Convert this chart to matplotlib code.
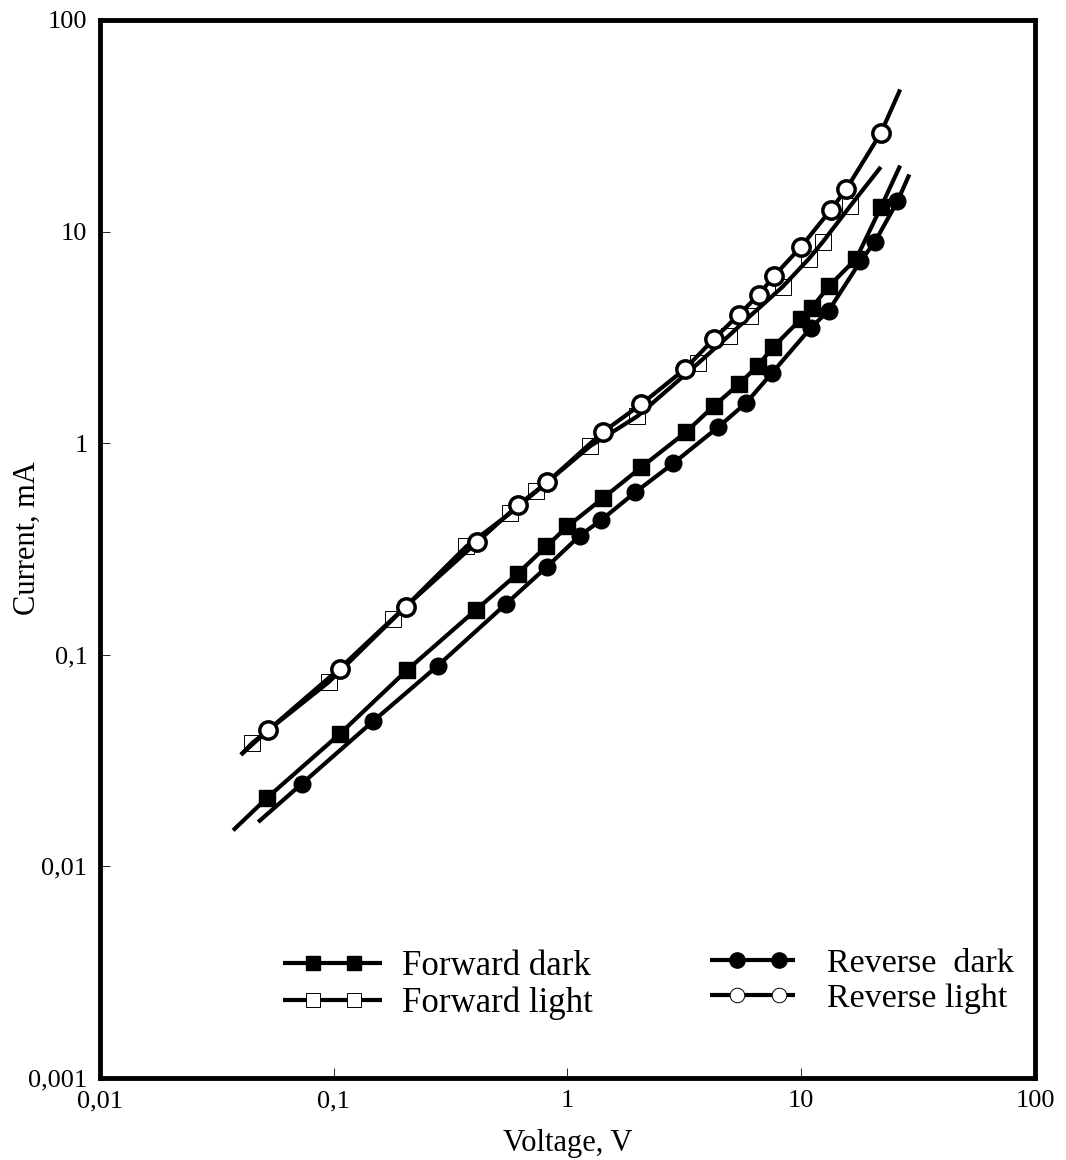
import numpy as np
import matplotlib
matplotlib.use("Agg")
import matplotlib.pyplot as plt
from matplotlib.lines import Line2D
from matplotlib.ticker import FixedLocator, FixedFormatter, NullLocator
from matplotlib.legend_handler import HandlerBase

plt.rcParams['font.family'] = ['Liberation Serif', 'DejaVu Serif']

# Forward dark (filled squares)
fd_v = [0.0519, 0.106, 0.205, 0.406, 0.613, 0.810, 1.0, 1.416, 2.07, 3.21, 4.23,
        5.41, 6.51, 7.59, 10.0, 11.1, 13.2, 17.2, 21.9]
fd_i = [0.0211, 0.0422, 0.0843, 0.163, 0.242, 0.325, 0.404, 0.549, 0.770, 1.127, 1.50,
        1.90, 2.32, 2.85, 3.87, 4.37, 5.55, 7.45, 13.0]
fd_ends_v = [0.0371, 26.5]
fd_ends_i = [0.0148, 20.5]

# Reverse dark (filled circles)
rd_v = [0.0728, 0.147, 0.279, 0.546, 0.818, 1.13, 1.39, 1.95, 2.84, 4.41, 5.81,
        7.51, 11.0, 13.1, 17.9, 20.7, 25.8]
rd_i = [0.0245, 0.0484, 0.0889, 0.174, 0.261, 0.366, 0.432, 0.586, 0.804, 1.19, 1.55,
        2.15, 3.51, 4.23, 7.22, 8.97, 13.9]
rd_ends_v = [0.0475, 29.0]
rd_ends_i = [0.0162, 18.6]

# Forward light (open squares)
fl_v = [0.0448, 0.0951, 0.180, 0.369, 0.568, 0.736, 1.25, 1.99, 3.63, 4.89, 6.06,
        8.32, 10.8, 12.4, 16.2]
fl_i = [0.0383, 0.0742, 0.148, 0.325, 0.466, 0.592, 0.968, 1.34, 2.39, 3.21, 4.00,
        5.48, 7.45, 8.97, 13.2]
fl_ends_v = [0.0401, 21.9]
fl_ends_i = [0.0337, 20.2]

# Reverse light (open circles)
rl_v = [0.0525, 0.106, 0.203, 0.410, 0.613, 0.818, 1.42, 2.07, 3.18, 4.23, 5.41,
        6.57, 7.66, 10.0, 13.4, 15.6, 21.9]
rl_i = [0.0441, 0.0861, 0.169, 0.340, 0.508, 0.653, 1.13, 1.53, 2.24, 3.11, 4.05,
        5.02, 6.18, 8.49, 12.7, 15.9, 29.2]
rl_ends_v = [0.0401, 26.5]
rl_ends_i = [0.0337, 46.9]

x_ticks = [0.01, 0.1, 1, 10, 100]
x_labels = ["0,01", "0,1", "1", "10", "100"]
y_ticks = [0.001, 0.01, 0.1, 1, 10, 100]
y_labels = ["0,001", "0,01", "0,1", "1", "10", "100"]


def path(v, i, ends_v, ends_i):
    return [ends_v[0]] + v + [ends_v[1]], [ends_i[0]] + i + [ends_i[1]]


class TwoMarkerHandler(HandlerBase):
    """legend handle: full-width line with two markers placed at fractions of it"""
    def __init__(self, fracs):
        super().__init__()
        self.fracs = fracs

    def create_artists(self, legend, orig_handle, xdescent, ydescent, width, height,
                       fontsize, trans):
        y = (height - ydescent) / 2
        line = Line2D([-xdescent, -xdescent + width], [y, y], color='black',
                      lw=orig_handle.get_linewidth(), solid_capstyle='butt', transform=trans)
        xs = [-xdescent + f * width for f in self.fracs]
        marks = Line2D(xs, [y] * len(xs), ls='none', marker=orig_handle.get_marker(),
                       ms=orig_handle.get_markersize(),
                       mfc=orig_handle.get_markerfacecolor(),
                       mec=orig_handle.get_markeredgecolor(),
                       mew=orig_handle.get_markeredgewidth(), transform=trans)
        return [line, marks]


fig = plt.figure(figsize=(10.66, 11.6), dpi=100)
ax = fig.add_axes([0.0938, 0.0707, 0.8771, 0.9121])
ax.set_xscale('log')
ax.set_yscale('log')
ax.set_xlim(0.01, 100)
ax.set_ylim(0.001, 100)

lw = 3.0
# lines first, markers on top
for v, i, ev, ei in [(fl_v, fl_i, fl_ends_v, fl_ends_i),
                     (rl_v, rl_i, rl_ends_v, rl_ends_i),
                     (fd_v, fd_i, fd_ends_v, fd_ends_i),
                     (rd_v, rd_i, rd_ends_v, rd_ends_i)]:
    pv, pi = path(v, i, ev, ei)
    ax.plot(pv, pi, color='black', lw=lw, solid_capstyle='butt', zorder=2)

ax.plot(fl_v, fl_i, ls='none', marker='s', ms=11.5, mfc='none', mec='black', mew=0.7, zorder=1)
ax.plot(fd_v, fd_i, ls='none', marker='s', ms=11.5, mfc='black', mec='black', zorder=3)
ax.plot(rd_v, rd_i, ls='none', marker='o', ms=12, mfc='black', mec='black', zorder=3)
ax.plot(rl_v, rl_i, ls='none', marker='o', ms=12.5, mfc='white', mec='black', mew=2.5, zorder=4)

ax.xaxis.set_major_locator(FixedLocator(x_ticks))
ax.xaxis.set_major_formatter(FixedFormatter(x_labels))
ax.yaxis.set_major_locator(FixedLocator(y_ticks))
ax.yaxis.set_major_formatter(FixedFormatter(y_labels))
ax.xaxis.set_minor_locator(NullLocator())
ax.yaxis.set_minor_locator(NullLocator())
ax.tick_params(direction='in', length=7, width=0.6, labelsize=19, pad=9)

for s in ax.spines.values():
    s.set_linewidth(3.5)

ax.set_xlabel("Voltage, V", fontsize=22, labelpad=12)
ax.set_ylabel("Current, mA", fontsize=22)
ax.yaxis.set_label_coords(-0.062, 0.51)

# legend proxies
h_fd = Line2D([], [], color='black', lw=lw, marker='s', ms=10.5, mfc='black', mec='black')
h_fl = Line2D([], [], color='black', lw=lw, marker='s', ms=10.5, mfc='white', mec='black', mew=0.7)
h_rd = Line2D([], [], color='black', lw=lw, marker='o', ms=11, mfc='black', mec='black')
h_rl = Line2D([], [], color='black', lw=lw, marker='o', ms=10.5, mfc='white', mec='black', mew=0.7)

fwd = TwoMarkerHandler([0.30, 0.71])
rev = TwoMarkerHandler([0.32, 0.82])
leg1 = ax.legend([h_fd, h_fl], ["Forward dark", "Forward light"], loc='upper left',
                 bbox_to_anchor=(0.196, 0.121), frameon=False, fontsize=25,
                 handlelength=2.85, handletextpad=0.58, labelspacing=0.1,
                 borderpad=0, borderaxespad=0, handler_map={h_fd: fwd, h_fl: fwd})
ax.add_artist(leg1)
ax.legend([h_rd, h_rl], ["Reverse  dark", "Reverse light"], loc='upper left',
          bbox_to_anchor=(0.652, 0.1225), frameon=False, fontsize=24.5,
          handlelength=2.5, handletextpad=0.94, labelspacing=0.12,
          borderpad=0, borderaxespad=0, handler_map={h_rd: rev, h_rl: rev})

fig.savefig("out.png", dpi=100)
